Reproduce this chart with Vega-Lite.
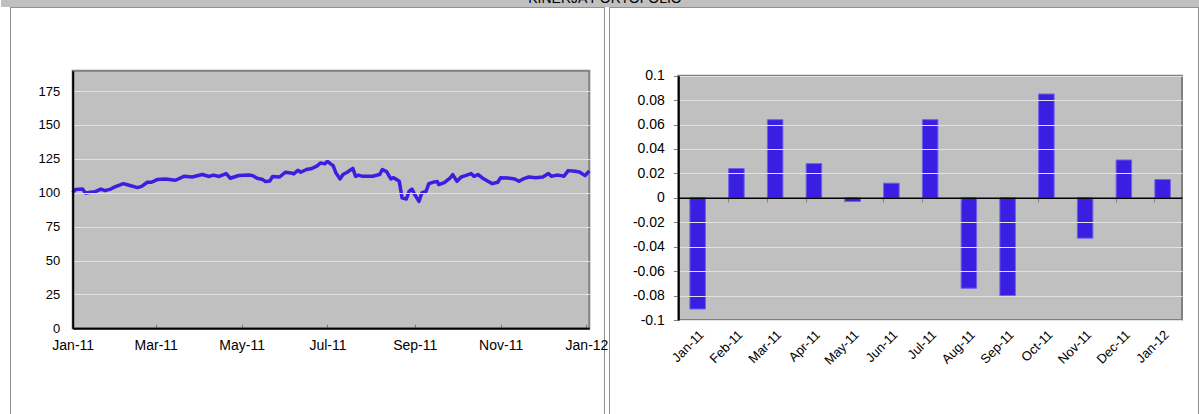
{
  "$schema": "https://vega.github.io/schema/vega-lite/v6.json",
  "background": "white",
  "autosize": {"type": "pad"},
  "padding": 0,
  "bounds": "flush",
  "spacing": 1,
  "config": {
    "view": {"fill": "#C0C0C0", "stroke": null},
    "axis": {"labelFont": "Liberation Sans", "labelColor": "black", "gridColor": "#E2E2E2", "gridWidth": 1, "titleFont": "Liberation Sans", "labelOverlap": false},
    "text": {"font": "Liberation Sans"}
  },
  "vconcat": [
    {
      "width": 1199,
      "height": 7,
      "view": {"fill": "#C0C0C0", "stroke": null},
      "data": {"values": [{"judul": "KINERJA PORTOFOLIO"}]},
      "mark": {"type": "text", "fontSize": 14, "color": "black", "align": "center", "baseline": "alphabetic", "dy": -1, "dx": 4.5, "clip": true},
      "encoding": {"text": {"field": "judul", "type": "nominal"}}
    },
    {
      "bounds": "flush",
      "spacing": 6,
      "hconcat": [
        {
          "width": 4,
          "height": 10,
          "view": {"fill": null, "stroke": null},
          "data": {"values": [{}]},
          "mark": {"type": "point", "opacity": 0}
        },
        {
          "width": 593,
          "height": 410,
          "view": {"fill": "#C0C0C0", "stroke": "#909090", "strokeWidth": 2},
          "layer": [
            {
              "data": {"values": [{}]},
              "mark": {"type": "rect", "color": "white", "clip": true},
              "encoding": {
                "x": {"datum": {"year": 2009, "month": 1, "date": 1, "utc": true}, "type": "temporal"},
                "x2": {"datum": {"year": 2011, "month": 1, "date": 1, "utc": true}},
                "y": {"datum": -1000, "type": "quantitative"},
                "y2": {"datum": 1000}
              }
            },
            {
              "data": {"values": [{}]},
              "mark": {"type": "rect", "color": "white", "clip": true},
              "encoding": {
                "x": {"datum": {"year": 2012, "month": 1, "date": 3, "utc": true}, "type": "temporal"},
                "x2": {"datum": {"year": 2014, "month": 1, "date": 1, "utc": true}},
                "y": {"datum": -1000, "type": "quantitative"},
                "y2": {"datum": 1000}
              }
            },
            {
              "data": {"values": [{}]},
              "mark": {"type": "rect", "color": "white", "clip": true},
              "encoding": {
                "x": {"datum": {"year": 2009, "month": 1, "date": 1, "utc": true}, "type": "temporal"},
                "x2": {"datum": {"year": 2014, "month": 1, "date": 1, "utc": true}},
                "y": {"datum": 190, "type": "quantitative"},
                "y2": {"datum": 1000}
              }
            },
            {
              "data": {"values": [{}]},
              "mark": {"type": "rect", "color": "white", "clip": true},
              "encoding": {
                "x": {"datum": {"year": 2009, "month": 1, "date": 1, "utc": true}, "type": "temporal"},
                "x2": {"datum": {"year": 2014, "month": 1, "date": 1, "utc": true}},
                "y": {"datum": -1000, "type": "quantitative"},
                "y2": {"datum": 0}
              }
            },
            {
              "data": {"values": [{}]},
              "mark": {"type": "rect", "fillOpacity": 0, "stroke": "#808080", "strokeWidth": 2},
              "encoding": {
                "x": {"datum": {"year": 2011, "month": 1, "date": 1, "utc": true}, "type": "temporal"},
                "x2": {"datum": {"year": 2012, "month": 1, "date": 3, "utc": true}},
                "y": {"datum": 0, "type": "quantitative"},
                "y2": {"datum": 190}
              }
            },
            {
              "data": {"values": [
                {"tanggal": "2011-01-01", "nilai": 100},
                {"tanggal": "2011-01-03", "nilai": 102.3},
                {"tanggal": "2011-01-08", "nilai": 102.7},
                {"tanggal": "2011-01-10", "nilai": 99.8},
                {"tanggal": "2011-01-15", "nilai": 100.5},
                {"tanggal": "2011-01-17", "nilai": 100.8},
                {"tanggal": "2011-01-21", "nilai": 102.7},
                {"tanggal": "2011-01-24", "nilai": 101.5},
                {"tanggal": "2011-01-28", "nilai": 102.7},
                {"tanggal": "2011-01-31", "nilai": 104.3},
                {"tanggal": "2011-02-06", "nilai": 106.7},
                {"tanggal": "2011-02-10", "nilai": 105.5},
                {"tanggal": "2011-02-16", "nilai": 103.8},
                {"tanggal": "2011-02-19", "nilai": 104.7},
                {"tanggal": "2011-02-23", "nilai": 107.7},
                {"tanggal": "2011-02-26", "nilai": 107.7},
                {"tanggal": "2011-03-02", "nilai": 109.7},
                {"tanggal": "2011-03-08", "nilai": 110.2},
                {"tanggal": "2011-03-15", "nilai": 109.2},
                {"tanggal": "2011-03-21", "nilai": 112.1},
                {"tanggal": "2011-03-27", "nilai": 111.6},
                {"tanggal": "2011-04-03", "nilai": 113.4},
                {"tanggal": "2011-04-08", "nilai": 112},
                {"tanggal": "2011-04-11", "nilai": 113},
                {"tanggal": "2011-04-15", "nilai": 112},
                {"tanggal": "2011-04-20", "nilai": 114.1},
                {"tanggal": "2011-04-23", "nilai": 110.7},
                {"tanggal": "2011-04-29", "nilai": 112.7},
                {"tanggal": "2011-05-06", "nilai": 113},
                {"tanggal": "2011-05-09", "nilai": 112.6},
                {"tanggal": "2011-05-12", "nilai": 110.7},
                {"tanggal": "2011-05-16", "nilai": 109.7},
                {"tanggal": "2011-05-18", "nilai": 108.2},
                {"tanggal": "2011-05-21", "nilai": 108.6},
                {"tanggal": "2011-05-23", "nilai": 112},
                {"tanggal": "2011-05-28", "nilai": 111.6},
                {"tanggal": "2011-06-01", "nilai": 115.1},
                {"tanggal": "2011-06-05", "nilai": 114.6},
                {"tanggal": "2011-06-07", "nilai": 113.9},
                {"tanggal": "2011-06-10", "nilai": 116.6},
                {"tanggal": "2011-06-12", "nilai": 115.1},
                {"tanggal": "2011-06-16", "nilai": 117.1},
                {"tanggal": "2011-06-20", "nilai": 117.9},
                {"tanggal": "2011-06-24", "nilai": 120},
                {"tanggal": "2011-06-26", "nilai": 122},
                {"tanggal": "2011-06-29", "nilai": 121.3},
                {"tanggal": "2011-07-01", "nilai": 123.2},
                {"tanggal": "2011-07-03", "nilai": 121.5},
                {"tanggal": "2011-07-05", "nilai": 120},
                {"tanggal": "2011-07-07", "nilai": 114.6},
                {"tanggal": "2011-07-10", "nilai": 110.2},
                {"tanggal": "2011-07-12", "nilai": 113.4},
                {"tanggal": "2011-07-15", "nilai": 115.1},
                {"tanggal": "2011-07-19", "nilai": 118},
                {"tanggal": "2011-07-21", "nilai": 112.1},
                {"tanggal": "2011-07-23", "nilai": 113},
                {"tanggal": "2011-07-26", "nilai": 112.1},
                {"tanggal": "2011-08-02", "nilai": 112.1},
                {"tanggal": "2011-08-07", "nilai": 113.4},
                {"tanggal": "2011-08-09", "nilai": 117.1},
                {"tanggal": "2011-08-12", "nilai": 115.6},
                {"tanggal": "2011-08-15", "nilai": 110.2},
                {"tanggal": "2011-08-17", "nilai": 111.1},
                {"tanggal": "2011-08-21", "nilai": 108.4},
                {"tanggal": "2011-08-23", "nilai": 96.2},
                {"tanggal": "2011-08-26", "nilai": 95.4},
                {"tanggal": "2011-08-28", "nilai": 101},
                {"tanggal": "2011-08-30", "nilai": 102.7},
                {"tanggal": "2011-09-01", "nilai": 98.6},
                {"tanggal": "2011-09-04", "nilai": 93.6},
                {"tanggal": "2011-09-06", "nilai": 99.8},
                {"tanggal": "2011-09-09", "nilai": 101},
                {"tanggal": "2011-09-11", "nilai": 106.7},
                {"tanggal": "2011-09-15", "nilai": 108},
                {"tanggal": "2011-09-17", "nilai": 108.2},
                {"tanggal": "2011-09-18", "nilai": 106},
                {"tanggal": "2011-09-22", "nilai": 107.5},
                {"tanggal": "2011-09-26", "nilai": 110.7},
                {"tanggal": "2011-09-28", "nilai": 113.4},
                {"tanggal": "2011-10-01", "nilai": 108.4},
                {"tanggal": "2011-10-04", "nilai": 111.6},
                {"tanggal": "2011-10-07", "nilai": 112.6},
                {"tanggal": "2011-10-11", "nilai": 114.1},
                {"tanggal": "2011-10-13", "nilai": 112.1},
                {"tanggal": "2011-10-16", "nilai": 113.4},
                {"tanggal": "2011-10-19", "nilai": 110.9},
                {"tanggal": "2011-10-23", "nilai": 108.4},
                {"tanggal": "2011-10-26", "nilai": 106.7},
                {"tanggal": "2011-10-30", "nilai": 107.7},
                {"tanggal": "2011-11-01", "nilai": 111.1},
                {"tanggal": "2011-11-06", "nilai": 110.9},
                {"tanggal": "2011-11-11", "nilai": 110.2},
                {"tanggal": "2011-11-14", "nilai": 108.4},
                {"tanggal": "2011-11-17", "nilai": 110.2},
                {"tanggal": "2011-11-21", "nilai": 111.6},
                {"tanggal": "2011-11-26", "nilai": 111.1},
                {"tanggal": "2011-12-01", "nilai": 111.6},
                {"tanggal": "2011-12-05", "nilai": 114.1},
                {"tanggal": "2011-12-07", "nilai": 112.1},
                {"tanggal": "2011-12-11", "nilai": 113},
                {"tanggal": "2011-12-14", "nilai": 112.6},
                {"tanggal": "2011-12-16", "nilai": 112.1},
                {"tanggal": "2011-12-19", "nilai": 116.3},
                {"tanggal": "2011-12-24", "nilai": 115.8},
                {"tanggal": "2011-12-27", "nilai": 115.3},
                {"tanggal": "2011-12-31", "nilai": 112.6},
                {"tanggal": "2012-01-03", "nilai": 116.1}
              ]},
              "mark": {"type": "line", "color": "#3A1EE2", "strokeWidth": 3.5, "strokeJoin": "round"},
              "encoding": {
                "x": {
                  "field": "tanggal", "type": "temporal",
                  "scale": {"type": "utc", "domain": [{"year": 2011, "month": 1, "date": 1, "utc": true}, {"year": 2012, "month": 1, "date": 3, "utc": true}], "range": [61.7, 578.3]},
                  "axis": {
                    "title": null, "grid": false, "format": "%b-%y", "orient": "bottom", "offset": -89.7, "zindex": 1,
                    "values": [
                      {"year": 2011, "month": 1, "date": 1, "utc": true},
                      {"year": 2011, "month": 3, "date": 1, "utc": true},
                      {"year": 2011, "month": 5, "date": 1, "utc": true},
                      {"year": 2011, "month": 7, "date": 1, "utc": true},
                      {"year": 2011, "month": 9, "date": 1, "utc": true},
                      {"year": 2011, "month": 11, "date": 1, "utc": true},
                      {"year": 2012, "month": 1, "date": 1, "utc": true}
                    ],
                    "domainColor": "black", "domainWidth": 2,
                    "tickColor": "#707070", "tickSize": -4, "tickWidth": 1,
                    "labelFontSize": 14, "labelPadding": 14, "labelFlush": false
                  }
                },
                "y": {
                  "field": "nilai", "type": "quantitative",
                  "scale": {"domain": [0, 190], "nice": false, "range": [320.3, 62.7]},
                  "axis": {
                    "title": null, "values": [0, 25, 50, 75, 100, 125, 150, 175], "orient": "left", "offset": -61.7, "zindex": 1, "grid": true,
                    "ticks": false, "labelPadding": 13, "labelFontSize": 13,
                    "domainColor": "black", "domainWidth": 2
                  }
                }
              }
            }
          ]
        },
        {
          "width": 588,
          "height": 410,
          "view": {"fill": "#C0C0C0", "stroke": "#909090", "strokeWidth": 2},
          "resolve": {"scale": {"x": "independent"}, "axis": {"x": "independent"}},
          "layer": [
            {
              "data": {"values": [{}]},
              "mark": {"type": "rect", "color": "white", "clip": true},
              "encoding": {
                "x": {"datum": -5, "type": "quantitative", "scale": {"domain": [0, 1], "range": [68.3, 572]}, "axis": null},
                "x2": {"datum": 0},
                "y": {"datum": -2, "type": "quantitative"},
                "y2": {"datum": 2}
              }
            },
            {
              "data": {"values": [{}]},
              "mark": {"type": "rect", "color": "white", "clip": true},
              "encoding": {
                "x": {"datum": 1, "type": "quantitative", "scale": {"domain": [0, 1], "range": [68.3, 572]}, "axis": null},
                "x2": {"datum": 6},
                "y": {"datum": -2, "type": "quantitative"},
                "y2": {"datum": 2}
              }
            },
            {
              "data": {"values": [{}]},
              "mark": {"type": "rect", "color": "white", "clip": true},
              "encoding": {
                "x": {"datum": -5, "type": "quantitative", "scale": {"domain": [0, 1], "range": [68.3, 572]}, "axis": null},
                "x2": {"datum": 6},
                "y": {"datum": 0.1, "type": "quantitative"},
                "y2": {"datum": 2}
              }
            },
            {
              "data": {"values": [{}]},
              "mark": {"type": "rect", "color": "white", "clip": true},
              "encoding": {
                "x": {"datum": -5, "type": "quantitative", "scale": {"domain": [0, 1], "range": [68.3, 572]}, "axis": null},
                "x2": {"datum": 6},
                "y": {"datum": -2, "type": "quantitative"},
                "y2": {"datum": -0.1}
              }
            },
            {
              "data": {"values": [{}]},
              "mark": {"type": "rect", "fillOpacity": 0, "stroke": "#808080", "strokeWidth": 2},
              "encoding": {
                "x": {"datum": 0, "type": "quantitative", "scale": {"domain": [0, 1], "range": [68.3, 572]}, "axis": null},
                "x2": {"datum": 1},
                "y": {"datum": -0.1, "type": "quantitative"},
                "y2": {"datum": 0.1}
              }
            },
            {
              "data": {"name": "imbal_bulanan", "values": [
                {"bulan": "Jan-11", "imbal": -0.091},
                {"bulan": "Feb-11", "imbal": 0.024},
                {"bulan": "Mar-11", "imbal": 0.064},
                {"bulan": "Apr-11", "imbal": 0.028},
                {"bulan": "May-11", "imbal": -0.003},
                {"bulan": "Jun-11", "imbal": 0.012},
                {"bulan": "Jul-11", "imbal": 0.064},
                {"bulan": "Aug-11", "imbal": -0.074},
                {"bulan": "Sep-11", "imbal": -0.080},
                {"bulan": "Oct-11", "imbal": 0.085},
                {"bulan": "Nov-11", "imbal": -0.033},
                {"bulan": "Dec-11", "imbal": 0.031},
                {"bulan": "Jan-12", "imbal": 0.015}
              ]},
              "mark": {"type": "bar", "color": "#3A1EE2", "stroke": "#6E60E8", "strokeWidth": 1},
              "encoding": {
                "x": {
                  "field": "bulan", "type": "ordinal", "sort": null,
                  "scale": {"range": [68.3, 572], "paddingInner": 0.6, "paddingOuter": 0.3},
                  "axis": {"title": null, "orient": "bottom", "offset": -98, "zindex": 1, "domain": false, "ticks": false, "grid": false, "labelAngle": -45, "labelAlign": "right", "labelBaseline": "top", "labelPadding": 8, "labelFontSize": 13}
                },
                "y": {
                  "field": "imbal", "type": "quantitative",
                  "scale": {"domain": [-0.1, 0.1], "nice": false, "range": [312, 67.7]},
                  "axis": {
                    "title": null, "orient": "left", "offset": -68.3, "zindex": 1, "grid": true,
                    "values": [-0.1, -0.08, -0.06, -0.04, -0.02, 0, 0.02, 0.04, 0.06, 0.08, 0.1],
                    "labelExpr": "datum.value == 0 ? '0' : toString(round(datum.value * 100) / 100)",
                    "ticks": true, "tickSize": 5, "tickColor": "#808080", "labelPadding": 9, "labelFontSize": 14,
                    "domainColor": "black", "domainWidth": 2
                  }
                }
              }
            },
            {
              "data": {"name": "imbal_bulanan"},
              "mark": {"type": "bar", "opacity": 0},
              "encoding": {
                "x": {
                  "field": "bulan", "type": "ordinal", "sort": null,
                  "scale": {"range": [68.3, 572], "paddingInner": 0.6, "paddingOuter": 0.3},
                  "axis": {"title": null, "orient": "bottom", "offset": -220.15, "zindex": 1, "labels": false, "domain": true, "domainColor": "black", "domainWidth": 1.5, "ticks": true, "tickColor": "#808080", "tickSize": 4, "bandPosition": 0, "grid": false}
                },
                "y": {"field": "imbal", "type": "quantitative"}
              }
            }
          ]
        }
      ]
    }
  ]
}
